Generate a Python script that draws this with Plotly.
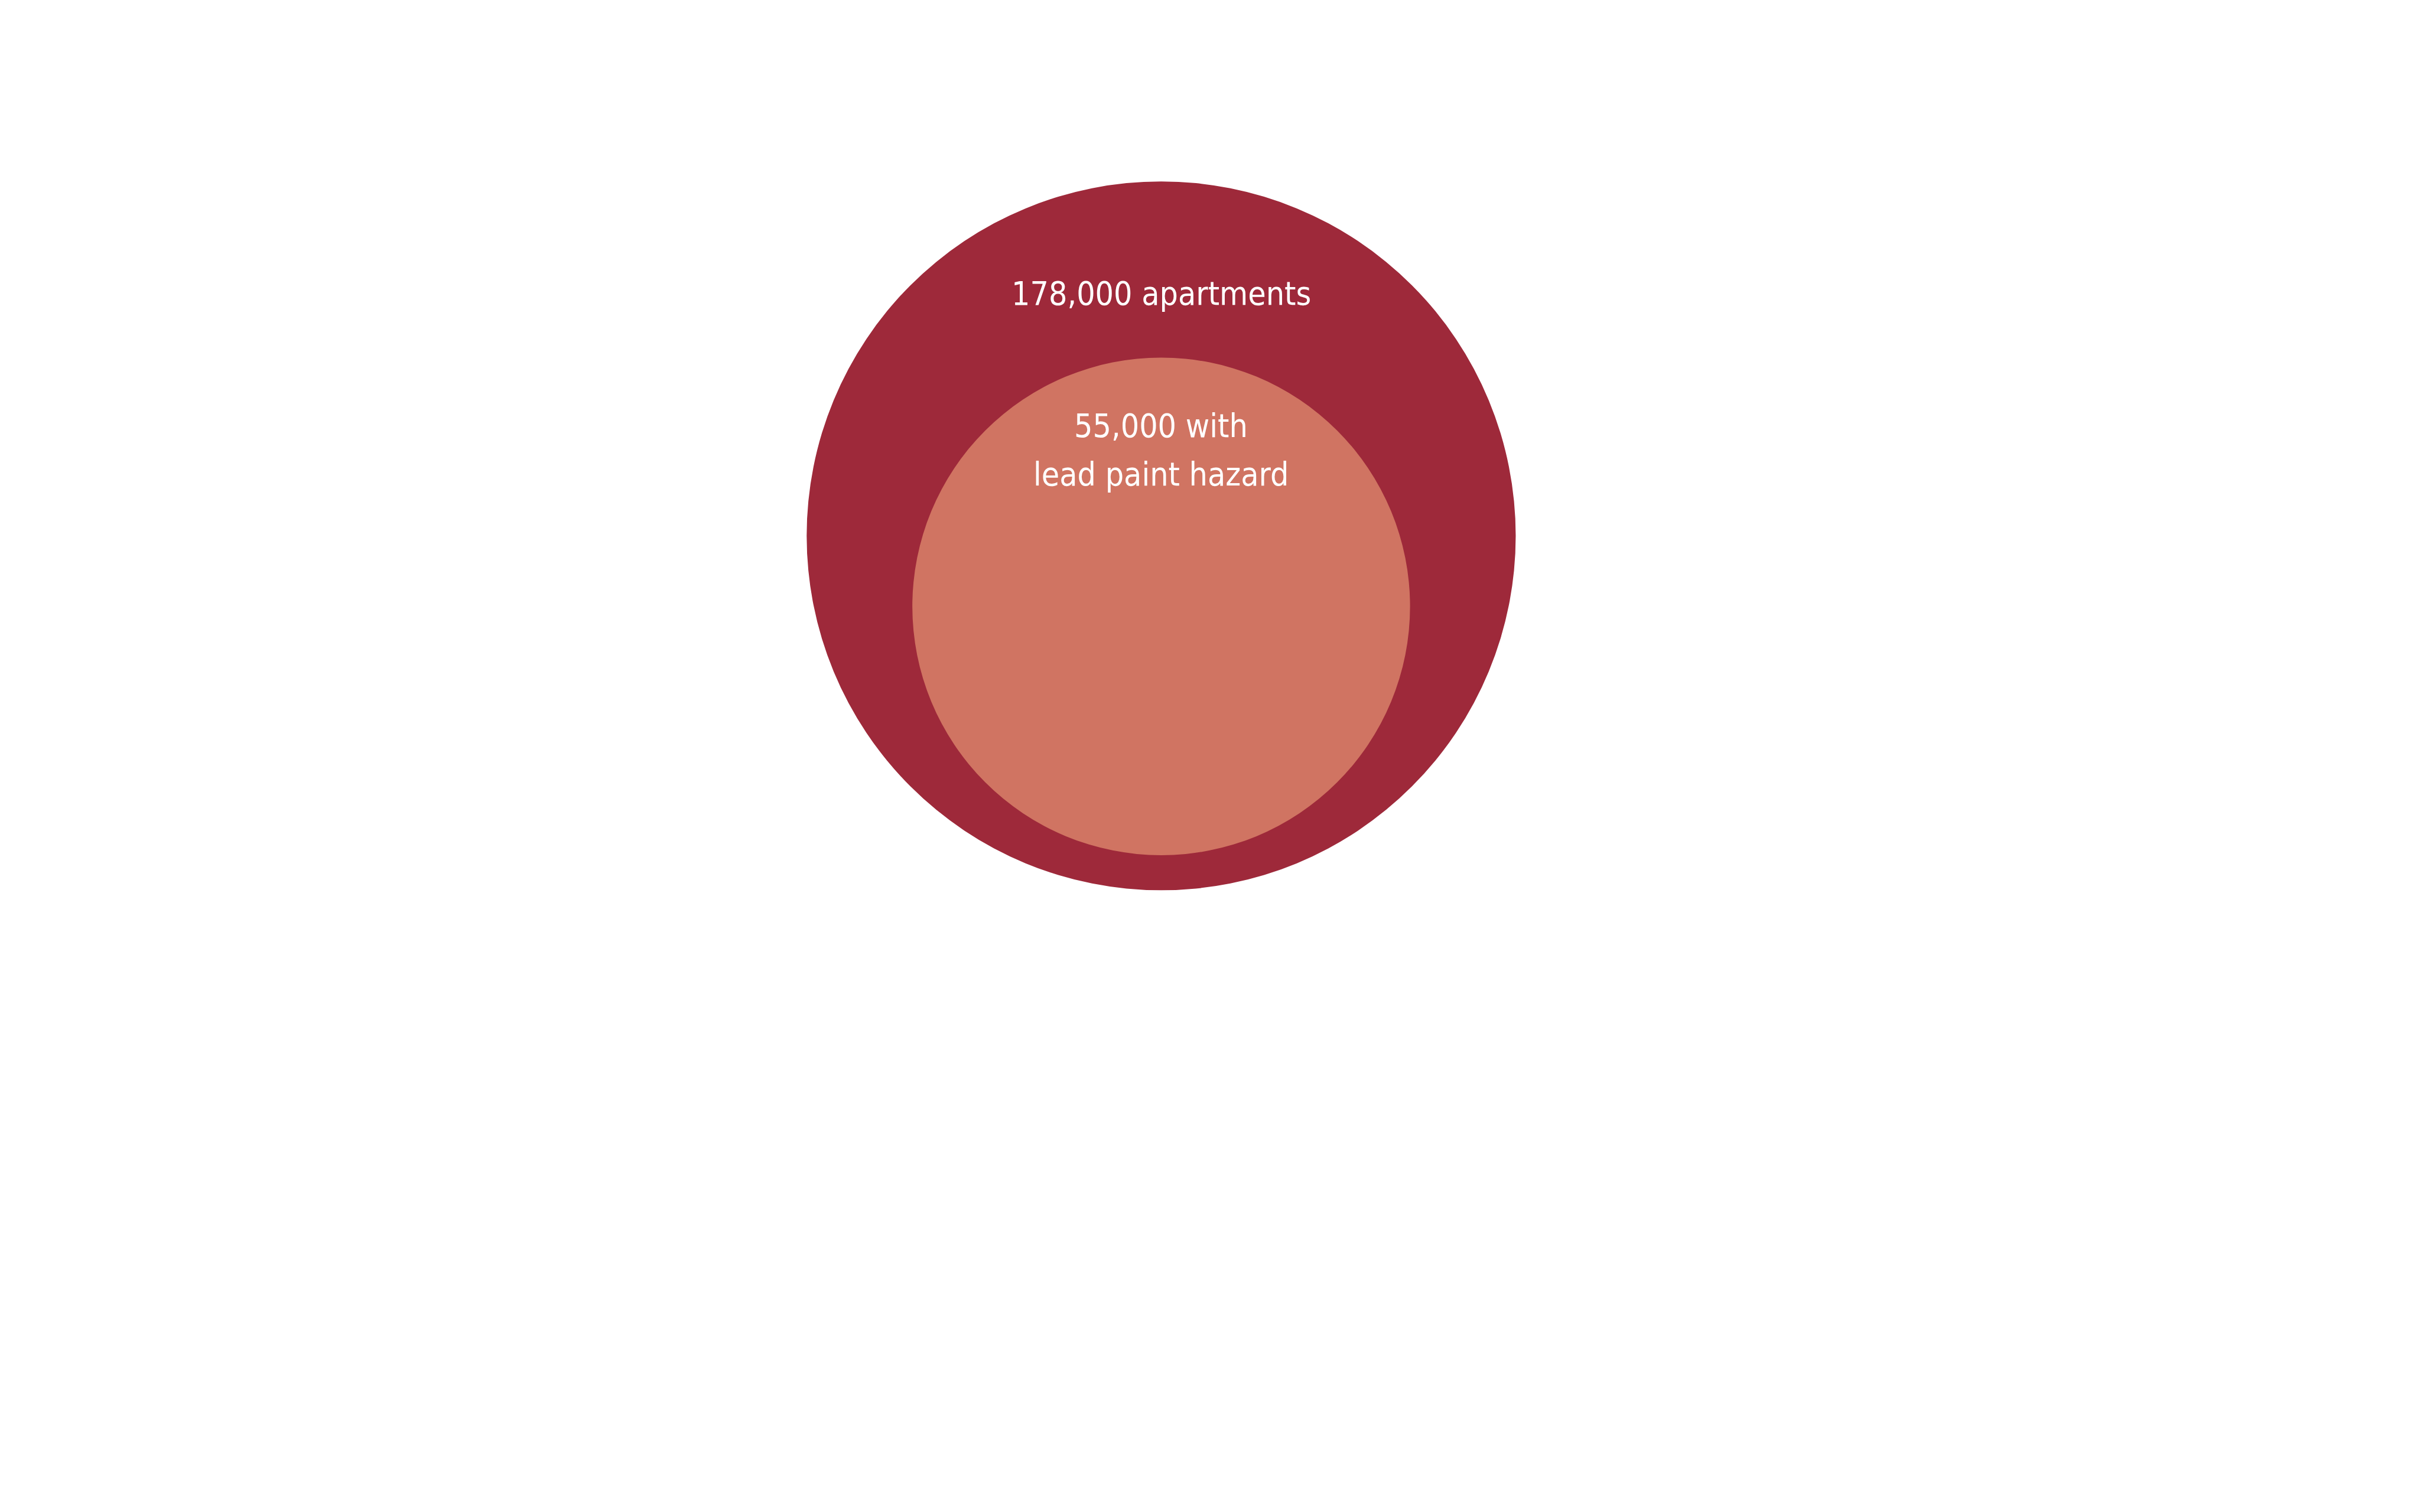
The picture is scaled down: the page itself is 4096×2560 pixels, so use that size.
import plotly.graph_objects as go

# ---- data ----
categories = ["apartments", "with lead paint hazard"]
values = [178000, 55000]
label_lines = [["178,000 apartments"], ["55,000 with", "lead paint hazard"]]

# ---- geometry (reference units, 6000 x 3750 canvas) ----
W, H = 6000, 3750
centers_x = [2879, 2879]
centers_y = [1329, 1504]
radii = [879, 617]
fills = ["#9E293A", "#D07462"]
label_y = [[728], [1056, 1176]]

FONT = "Liberation Sans Narrow, Arial Narrow, DejaVu Sans Condensed, sans-serif"

fig = go.Figure()
fig.add_trace(go.Scatter(x=[None], y=[None], mode="markers", showlegend=False, hoverinfo="skip"))

for cx, cy, r, c in zip(centers_x, centers_y, radii, fills):
    fig.add_shape(type="circle", xref="x", yref="y",
                  x0=cx - r, x1=cx + r, y0=cy - r, y1=cy + r,
                  fillcolor=c, line=dict(width=0), layer="below")

for lines, cx, ys in zip(label_lines, centers_x, label_y):
    for txt, ly in zip(lines, ys):
        fig.add_annotation(x=cx, y=ly, xref="x", yref="y", text=txt, showarrow=False,
                           xanchor="center", yanchor="middle", align="center",
                           font=dict(family=FONT, size=55, color="white"))

fig.update_layout(
    width=4096, height=2560,
    margin=dict(l=0, r=0, t=0, b=0),
    paper_bgcolor="white", plot_bgcolor="white",
    xaxis=dict(range=[0, W], visible=False, fixedrange=True),
    yaxis=dict(range=[H, 0], visible=False, fixedrange=True),
    showlegend=False,
)

fig.write_html("out.html")
